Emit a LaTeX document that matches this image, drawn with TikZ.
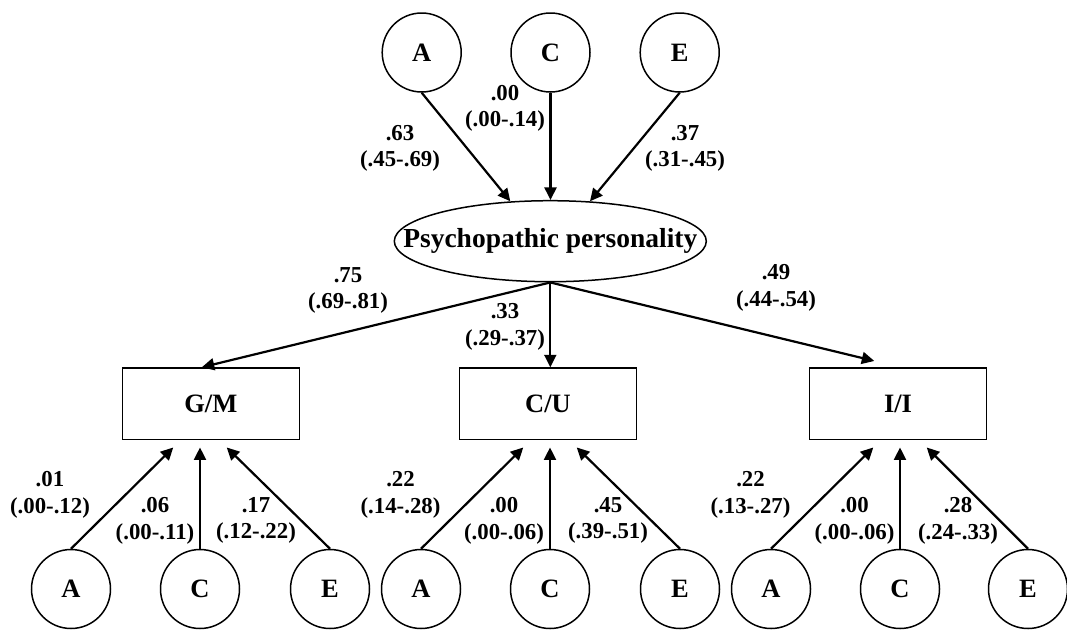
\documentclass[tikz,border=0pt]{standalone}
\usepackage{fontspec}
\setmainfont{Liberation Serif}
\usetikzlibrary{shapes.geometric,arrows.meta,calc}
\begin{document}
\begin{tikzpicture}[x=1pt,y=-1pt,
 lat/.style={circle,draw,line width=1.5pt,minimum size=79pt,inner sep=0pt,font=\fontsize{26.5}{30}\selectfont\bfseries},
 obs/.style={rectangle,draw,line width=1.5pt,minimum width=177pt,minimum height=71.5pt,inner sep=0pt,font=\fontsize{26.5}{30}\selectfont\bfseries},
 factor/.style={ellipse,draw,line width=1.5pt,minimum width=312pt,minimum height=81pt,inner sep=0pt,font=\fontsize{27.5}{30}\selectfont\bfseries},
 lab/.style={align=center,inner sep=0pt,font=\fontsize{22.8}{26.7}\selectfont\bfseries},
 arr/.style={line width=2.2pt,-{Triangle[length=12.5pt,width=12pt]}}]
\fill[white] (0,0) rectangle (1067,632);
\useasboundingbox (0,0) rectangle (1067,632);

% top
\node[lat] (tA) at (421.7,52.5) {A};
\node[lat] (tC) at (550.5,52.5) {C};
\node[lat] (tE) at (679.7,52.5) {E};
\node[factor] (pp) at (550.3,241.2) {\makebox[0pt]{Psychopathic personality}};

\draw[arr] (tA.south) -- ([xshift=-40pt,yshift=-1.3pt]pp.north);
\draw[arr] (tC.south) -- (tC.south |- pp.north);
\draw[arr] (tE.south) -- ([xshift=39.7pt,yshift=-1.3pt]pp.north);

\node[lab] (lt1) at (400,148.3) {.63\\(.45-.69)};
\node[lab] (lt2) at (505,108.3) {.00\\(.00-.14)};
\node[lab] (lt3) at (685,148.3) {.37\\(.31-.45)};

% boxes
\node[obs] (gm) at (210.8,403.75) {G/M};
\node[obs] (cu) at (548,403.75) {C/U};
\node[obs] (ii) at (898,403.75) {I/I};

\draw[arr] (pp.south) -- ([xshift=-9pt]gm.north);
\draw[arr] (pp.south) -- (pp.south |- cu.north);
\draw[arr] (pp.south) -- ([xshift=-23.7pt,yshift=6.3pt]ii.north);

\node[lab] (lm1) at (348,290.5) {.75\\(.69-.81)};
\node[lab] (lm2) at (505,327) {.33\\(.29-.37)};
\node[lab] (lm3) at (776,288) {.49\\(.44-.54)};

% bottom circles
\node[lat] (gA) at (71,589) {A};
\node[lat] (gC) at (200,589) {C};
\node[lat] (gE) at (330,589) {E};
\node[lat] (cA) at (421,589) {A};
\node[lat] (cC) at (550,589) {C};
\node[lat] (cE) at (680,589) {E};
\node[lat] (iA) at (771,589) {A};
\node[lat] (iC) at (900,589) {C};
\node[lat] (iE) at (1028,589) {E};

\draw[arr] (gA.north) -- ($(gC.north |- gm.south)+(-26.7,7.2)$);
\draw[arr] (gC.north) -- ($(gC.north |- gm.south)+(0,7.2)$);
\draw[arr] (gE.north) -- ($(gC.north |- gm.south)+(26.7,7.2)$);
\draw[arr] (cA.north) -- ($(cC.north |- cu.south)+(-26.7,7.2)$);
\draw[arr] (cC.north) -- ($(cC.north |- cu.south)+(0,7.2)$);
\draw[arr] (cE.north) -- ($(cC.north |- cu.south)+(26.7,7.2)$);
\draw[arr] (iA.north) -- ($(iC.north |- ii.south)+(-26.7,7.2)$);
\draw[arr] (iC.north) -- ($(iC.north |- ii.south)+(0,7.2)$);
\draw[arr] (iE.north) -- ($(iC.north |- ii.south)+(26.7,7.2)$);

\node[lab] (lb1) at (50,495) {.01\\(.00-.12)};
\node[lab] (lb2) at (155,520.5) {.06\\(.00-.11)};
\node[lab] (lb3) at (256,520.5) {.17\\(.12-.22)};
\node[lab] (lb4) at (400.5,495) {.22\\(.14-.28)};
\node[lab] (lb5) at (504,520.5) {.00\\(.00-.06)};
\node[lab] (lb6) at (608,520.5) {.45\\(.39-.51)};
\node[lab] (lb7) at (750.5,495) {.22\\(.13-.27)};
\node[lab] (lb8) at (854.5,520.5) {.00\\(.00-.06)};
\node[lab] (lb9) at (958,520.5) {.28\\(.24-.33)};
\end{tikzpicture}
\end{document}
